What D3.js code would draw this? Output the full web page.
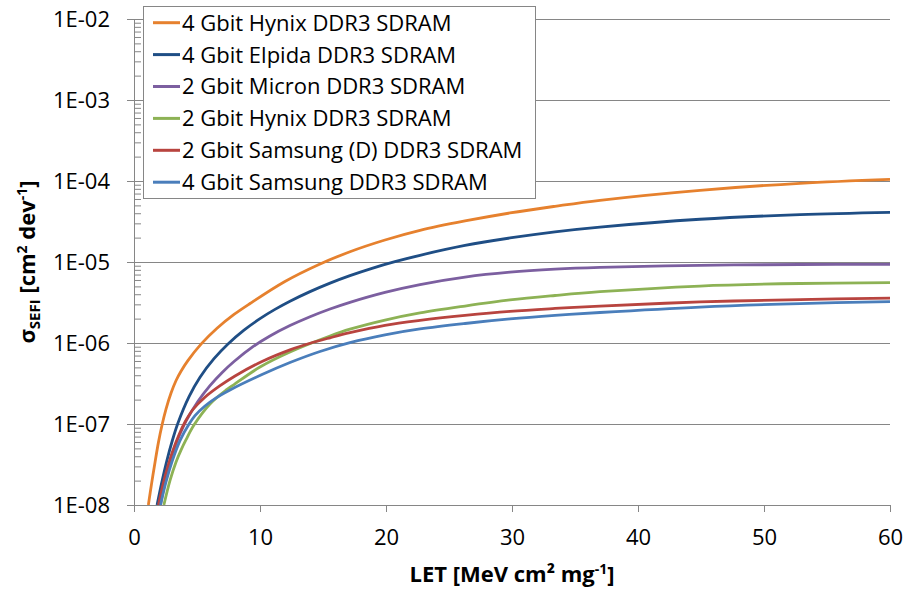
<!DOCTYPE html>
<html>
<head>
<meta charset="utf-8">
<script src="https://cdn.jsdelivr.net/npm/d3@7"></script>
<style>
  html, body { margin: 0; padding: 0; background: #fff; }
  svg text { font-family: "Open Sans", "Noto Sans", sans-serif; fill: #000; }
</style>
</head>
<body>
<svg id="chart" width="905" height="590"></svg>
<script>
// SEFI cross-section vs LET for six DDR3 SDRAM parts
const seriesNames = [
  "4 Gbit Hynix DDR3 SDRAM",
  "4 Gbit Elpida DDR3 SDRAM",
  "2 Gbit Micron DDR3 SDRAM",
  "2 Gbit Hynix DDR3 SDRAM",
  "2 Gbit Samsung (D) DDR3 SDRAM",
  "4 Gbit Samsung DDR3 SDRAM"
];

// LET [MeV cm² mg⁻¹] and cross-section [cm² dev⁻¹] per device
const letHynix4  = [1.14, 1.39, 1.67, 1.94, 2.22, 2.54, 2.94, 3.33, 3.73, 4.29, 5.32, 6.59, 7.94, 9.21, 11.98, 14.68, 17.14, 19.92, 22.70, 26.27, 29.84, 33.41, 36.98, 44.92, 52.86, 60];
const sefiHynix4 = [1e-8, 1.81e-8, 3.38e-8, 5.93e-8, 9.66e-8, 1.53e-7, 2.41e-7, 3.42e-7, 4.48e-7, 6.10e-7, 9.68e-7, 1.52e-6, 2.25e-6, 3.07e-6, 5.74e-6, 9.31e-6, 1.34e-5, 1.87e-5, 2.46e-5, 3.21e-5, 4.03e-5, 4.87e-5, 5.78e-5, 7.68e-5, 9.37e-5, 1.05e-4];

const letElpida4  = [1.83, 2.22, 2.62, 3.02, 3.49, 4.37, 5.24, 6.35, 7.46, 8.73, 10.0, 11.19, 12.38, 13.97, 15.56, 17.14, 18.89, 20.71, 22.70, 26.27, 29.84, 33.41, 36.98, 44.92, 52.86, 60];
const sefiElpida4 = [1e-8, 1.95e-8, 3.59e-8, 6.08e-8, 1.03e-7, 2.18e-7, 3.78e-7, 6.40e-7, 9.72e-7, 1.44e-6, 2.0e-6, 2.60e-6, 3.28e-6, 4.31e-6, 5.49e-6, 6.79e-6, 8.36e-6, 1.01e-5, 1.21e-5, 1.60e-5, 1.98e-5, 2.36e-5, 2.70e-5, 3.37e-5, 3.85e-5, 4.11e-5];

const letMicron2  = [2.10, 2.46, 2.86, 3.25, 3.65, 4.15, 5.08, 6.03, 6.98, 7.94, 9.44, 10.79, 12.38, 13.97, 15.56, 17.14, 19.92, 22.70, 26.27, 29.84, 33.41, 36.98, 44.92, 52.86, 60];
const sefiMicron2 = [1e-8, 1.90e-8, 3.35e-8, 5.24e-8, 7.52e-8, 1.10e-7, 1.91e-7, 2.98e-7, 4.30e-7, 5.91e-7, 9.00e-7, 1.22e-6, 1.64e-6, 2.11e-6, 2.63e-6, 3.18e-6, 4.22e-6, 5.27e-6, 6.51e-6, 7.48e-6, 8.15e-6, 8.58e-6, 9.11e-6, 9.31e-6, 9.37e-6];

const letHynix2  = [2.37, 2.86, 3.33, 3.73, 4.13, 4.76, 6.03, 7.38, 7.94, 10.0, 12.38, 15.56, 17.14, 19.92, 22.70, 26.27, 29.84, 33.41, 36.98, 44.92, 52.86, 60];
const sefiHynix2 = [1e-8, 2.02e-8, 3.38e-8, 4.75e-8, 6.40e-8, 9.72e-8, 1.77e-7, 2.67e-7, 3.07e-7, 5.05e-7, 7.74e-7, 1.22e-6, 1.48e-6, 1.92e-6, 2.35e-6, 2.86e-6, 3.40e-6, 3.86e-6, 4.30e-6, 5.05e-6, 5.43e-6, 5.55e-6];

const letSamsungD2  = [1.94, 2.46, 3.02, 3.57, 4.05, 4.68, 5.63, 6.83, 8.02, 10.16, 12.38, 13.97, 15.56, 17.14, 19.92, 22.70, 26.27, 29.84, 33.41, 36.98, 44.92, 52.86, 60];
const sefiSamsungD2 = [1e-8, 2.25e-8, 4.39e-8, 7.37e-8, 1.06e-7, 1.51e-7, 2.14e-7, 2.97e-7, 3.92e-7, 5.91e-7, 8.22e-7, 9.92e-7, 1.16e-6, 1.34e-6, 1.65e-6, 1.90e-6, 2.19e-6, 2.46e-6, 2.67e-6, 2.86e-6, 3.21e-6, 3.44e-6, 3.59e-6];

const letSamsung4  = [2.10, 2.54, 3.02, 3.65, 4.37, 4.84, 5.63, 6.43, 7.62, 10.16, 12.38, 14.76, 17.14, 19.92, 22.70, 26.27, 29.84, 33.41, 36.98, 44.92, 52.86, 60];
const sefiSamsung4 = [1e-8, 1.93e-8, 3.44e-8, 6.24e-8, 1.0e-7, 1.27e-7, 1.67e-7, 2.06e-7, 2.63e-7, 4.08e-7, 5.74e-7, 7.86e-7, 1.01e-6, 1.26e-6, 1.49e-6, 1.74e-6, 1.98e-6, 2.19e-6, 2.38e-6, 2.78e-6, 3.07e-6, 3.24e-6];

const xTickValues = [0, 10, 20, 30, 40, 50, 60];
const yTickValues = [1e-8, 1e-7, 1e-6, 1e-5, 1e-4, 1e-3, 1e-2];
const yTickLabels = ["1E-08", "1E-07", "1E-06", "1E-05", "1E-04", "1E-03", "1E-02"];

const seriesColors = ["#E6812E", "#1F4E85", "#7C5FA0", "#8DB255", "#B8443F", "#4A7EBB"];

const seriesData = [
  d3.zip(letHynix4, sefiHynix4),
  d3.zip(letElpida4, sefiElpida4),
  d3.zip(letMicron2, sefiMicron2),
  d3.zip(letHynix2, sefiHynix2),
  d3.zip(letSamsungD2, sefiSamsungD2),
  d3.zip(letSamsung4, sefiSamsung4)
];

const svg = d3.select("#chart");
const plotLeft = 134, plotRight = 890, plotTop = 19, plotBottom = 505;
const axisGray = "#868686";

const x = d3.scaleLinear().domain([0, 60]).range([plotLeft, plotRight]);
const y = d3.scaleLog().domain([1e-8, 1e-2]).range([plotBottom, plotTop]);

// horizontal gridlines at each decade
svg.append("g")
  .selectAll("line")
  .data(yTickValues.slice(1))
  .join("line")
  .attr("x1", plotLeft).attr("x2", plotRight)
  .attr("y1", d => y(d)).attr("y2", d => y(d))
  .attr("stroke", axisGray).attr("stroke-width", 1)
  .attr("shape-rendering", "crispEdges");

// minor tick positions 2..9 within every decade
const minorTicks = [];
yTickValues.slice(0, -1).forEach(dec => {
  for (let k = 2; k <= 9; k++) minorTicks.push(dec * k);
});

// y axis: labelled major ticks outside
const yAxis = svg.append("g")
  .attr("transform", `translate(${plotLeft},0)`)
  .call(d3.axisLeft(y)
    .tickValues(yTickValues)
    .tickFormat((d, i) => yTickLabels[i])
    .tickSizeInner(7).tickSizeOuter(0).tickPadding(17));
yAxis.select(".domain").attr("stroke", axisGray);
yAxis.selectAll(".tick line").attr("stroke", axisGray);
yAxis.selectAll(".tick text").style("font-size", "22px").style("font-family", "'Open Sans', sans-serif");

// y axis: major and minor ticks inside
const yInner = svg.append("g")
  .attr("transform", `translate(${plotLeft},0)`)
  .call(d3.axisRight(y)
    .tickValues(yTickValues.concat(minorTicks))
    .tickFormat("")
    .tickSizeInner(7).tickSizeOuter(0));
yInner.select(".domain").remove();
yInner.selectAll(".tick line").attr("stroke", axisGray);

// x axis
const xAxis = svg.append("g")
  .attr("transform", `translate(0,${plotBottom})`)
  .call(d3.axisBottom(x)
    .tickValues(xTickValues)
    .tickFormat(d3.format("d"))
    .tickSizeInner(7).tickSizeOuter(0).tickPadding(17));
xAxis.select(".domain").attr("stroke", axisGray);
xAxis.selectAll(".tick line").attr("stroke", axisGray);
xAxis.selectAll(".tick text").style("font-size", "22px").style("font-family", "'Open Sans', sans-serif");

// curves, clipped to the plot area
svg.append("clipPath").attr("id", "plotClip")
  .append("rect")
  .attr("x", plotLeft).attr("y", plotTop)
  .attr("width", plotRight - plotLeft).attr("height", plotBottom - plotTop);

const line = d3.line()
  .x(d => x(d[0]))
  .y(d => y(d[1]))
  .curve(d3.curveCatmullRom.alpha(0.5));

svg.append("g")
  .attr("clip-path", "url(#plotClip)")
  .selectAll("path")
  .data(seriesData)
  .join("path")
  .attr("d", line)
  .attr("fill", "none")
  .attr("stroke", (d, i) => seriesColors[i])
  .attr("stroke-width", 2.8)
  .attr("stroke-linejoin", "round");

// legend
const legend = svg.append("g");
legend.append("rect")
  .attr("x", 143.5).attr("y", 6.5)
  .attr("width", 392).attr("height", 192)
  .attr("fill", "#fff")
  .attr("stroke", axisGray).attr("stroke-width", 1);

const rows = legend.selectAll("g.row")
  .data(seriesNames)
  .join("g")
  .attr("class", "row")
  .attr("transform", (d, i) => `translate(0,${22.7 + i * 31.9})`);
rows.append("line")
  .attr("x1", 153).attr("x2", 180)
  .attr("y1", 0).attr("y2", 0)
  .attr("stroke", (d, i) => seriesColors[i])
  .attr("stroke-width", 3);
rows.append("text")
  .attr("x", 182).attr("y", 0).attr("dy", "0.36em")
  .style("font-size", "22px")
  .text(d => d);

// x axis title
const xTitle = svg.append("text")
  .attr("x", (plotLeft + plotRight) / 2).attr("y", 582)
  .attr("text-anchor", "middle")
  .style("font-size", "22px").style("font-weight", "bold");
xTitle.append("tspan").text("LET [MeV cm² mg");
xTitle.append("tspan").attr("dy", -8).style("font-size", "14px").text("-1");
xTitle.append("tspan").attr("dy", 8).text("]");

// y axis title
const yTitle = svg.append("text")
  .attr("transform", `translate(35,${(plotTop + plotBottom) / 2}) rotate(-90)`)
  .attr("text-anchor", "middle")
  .style("font-size", "22px").style("font-weight", "bold");
yTitle.append("tspan").text("σ");
yTitle.append("tspan").attr("dy", 5).style("font-size", "15px").text("SEFI");
yTitle.append("tspan").attr("dy", -5).text(" [cm");
yTitle.append("tspan").attr("dy", -8).style("font-size", "14px").text("2");
yTitle.append("tspan").attr("dy", 8).text(" dev");
yTitle.append("tspan").attr("dy", -8).style("font-size", "14px").text("-1");
yTitle.append("tspan").attr("dy", 8).text("]");
</script>
</body>
</html>
